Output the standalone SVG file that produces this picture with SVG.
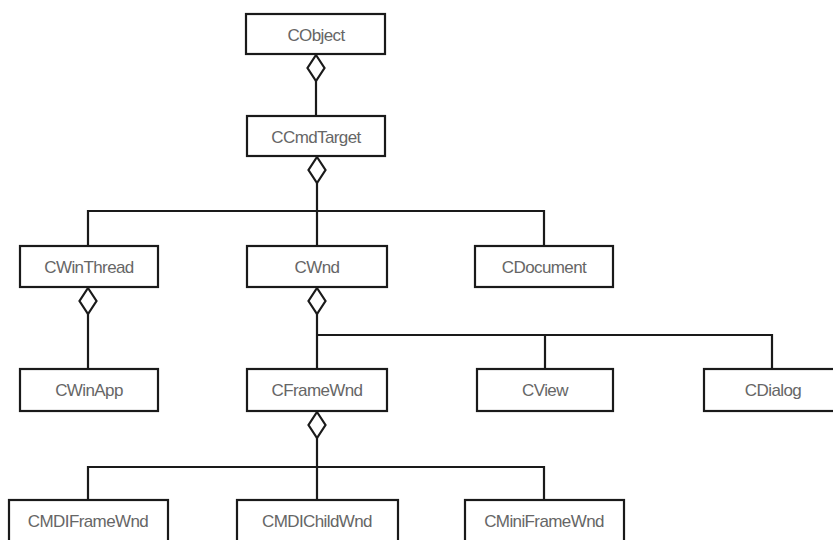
<svg xmlns="http://www.w3.org/2000/svg" xmlns:xlink="http://www.w3.org/1999/xlink" width="833" height="540" viewBox="0 0 833 540">
<style>
.box{fill:#fff;stroke:#1a1a1a;stroke-width:2.2}
.lbl{font-family:"Liberation Sans",Arial,sans-serif;font-size:17px;fill:#666;text-anchor:middle;letter-spacing:-0.6px}
.ln{stroke:#1a1a1a;stroke-width:2.2;fill:none}
.dia{fill:#fff;stroke:#1a1a1a;stroke-width:2.2}
</style>
<defs>
<path id="d" d="M0,0 L8.5,13 L0,26 L-8.5,13 Z"/>
</defs>
<rect width="833" height="540" fill="#fff"/>
<g id="connectors">
<path class="ln" d="M316,80 V116"/>
<path class="ln" d="M317,183 V246 M88,246 V211 H544 V246"/>
<path class="ln" d="M88,313 V369"/>
<path class="ln" d="M317,313 V369 M317,335 H772 V369 M545,335 V369"/>
<path class="ln" d="M317,437 V500 M88,500 V467 H544 V500"/>
<use href="#d" class="dia" x="316" y="55"/>
<use href="#d" class="dia" x="317" y="157"/>
<use href="#d" class="dia" x="88" y="288"/>
<use href="#d" class="dia" x="317" y="288"/>
<use href="#d" class="dia" x="317" y="412"/>
</g>
<g id="CObject"><rect class="box" x="246" y="14" width="139" height="40"/><text class="lbl" x="316" y="41">CObject</text></g>
<g id="CCmdTarget"><rect class="box" x="247" y="116" width="138" height="40"/><text class="lbl" x="316" y="143">CCmdTarget</text></g>
<g id="CWinThread"><rect class="box" x="20" y="246" width="138" height="41"/><text class="lbl" x="89" y="273">CWinThread</text></g>
<g id="CWnd"><rect class="box" x="247" y="246" width="140" height="41"/><text class="lbl" x="317" y="273">CWnd</text></g>
<g id="CDocument"><rect class="box" x="475" y="246" width="138" height="41"/><text class="lbl" x="544" y="273">CDocument</text></g>
<g id="CWinApp"><rect class="box" x="20" y="369" width="138" height="42"/><text class="lbl" x="89" y="396">CWinApp</text></g>
<g id="CFrameWnd"><rect class="box" x="247" y="369" width="140" height="42"/><text class="lbl" x="317" y="396">CFrameWnd</text></g>
<g id="CView"><rect class="box" x="477" y="369" width="136" height="42"/><text class="lbl" x="545" y="396">CView</text></g>
<g id="CDialog"><rect class="box" x="704" y="369" width="138" height="42"/><text class="lbl" x="773" y="396">CDialog</text></g>
<g id="CMDIFrameWnd"><rect class="box" x="9" y="500" width="159" height="46"/><text class="lbl" x="88" y="527">CMDIFrameWnd</text></g>
<g id="CMDIChildWnd"><rect class="box" x="237" y="500" width="161" height="46"/><text class="lbl" x="317" y="527">CMDIChildWnd</text></g>
<g id="CMiniFrameWnd"><rect class="box" x="465" y="500" width="159" height="46"/><text class="lbl" x="544" y="527">CMiniFrameWnd</text></g>
</svg>
